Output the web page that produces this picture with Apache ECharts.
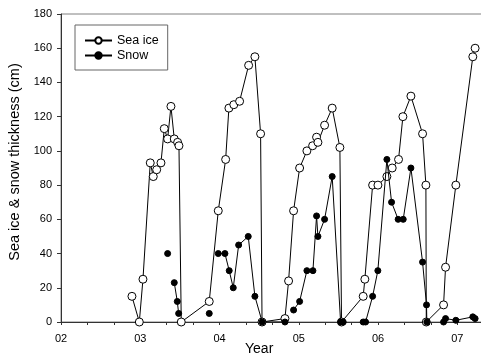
<!DOCTYPE html>
<html>
<head>
<meta charset="utf-8">
<script src="https://cdn.jsdelivr.net/npm/echarts@6/dist/echarts.min.js"></script>
<style>
  html, body { margin: 0; padding: 0; background: #fff; }
  #chart { width: 481px; height: 356px; }
</style>
</head>
<body>
<div id="chart"></div>
<script>
// 海冰厚度（空心圆）
const iceYear = [2002.895, 2002.988, 2003.034, 2003.126, 2003.164, 2003.207, 2003.261, 2003.303, 2003.345, 2003.387,
    2003.429, 2003.471, 2003.488, 2003.517, 2003.870, 2003.984, 2004.077, 2004.118, 2004.180, 2004.253,
    2004.367, 2004.446, 2004.518, 2004.536, 2004.825, 2004.871, 2004.934, 2005.010, 2005.102, 2005.174,
    2005.224, 2005.241, 2005.325, 2005.421, 2005.518, 2005.539, 2005.812, 2005.833, 2005.931, 2005.998,
    2006.111, 2006.178, 2006.258, 2006.313, 2006.414, 2006.561, 2006.603, 2006.608, 2006.826, 2006.851,
    2006.981, 2007.195, 2007.224];
const iceCm = [15, 0, 25, 93, 85, 89, 93, 113, 107, 126,
    107, 105, 103, 0, 12, 65, 95, 125, 127, 129,
    150, 155, 110, 0, 2, 24, 65, 90, 100, 103,
    108, 105, 115, 125, 102, 0, 15, 25, 80, 80,
    85, 90, 95, 120, 132, 110, 80, 0, 10, 32,
    80, 155, 160];

// 积雪厚度（实心圆），null 表示断开
const snowYear = [2003.345, null, 2003.429, 2003.467, 2003.484, null, 2003.870, null,
    2003.984, 2004.068, 2004.122, 2004.173, 2004.241, 2004.362, 2004.446, 2004.538, 2004.825, null,
    2004.934, 2005.010, 2005.102, 2005.178, 2005.224, 2005.241, 2005.325, 2005.421, 2005.527, 2005.560, null,
    2005.812, 2005.842, 2005.931, 2005.997, 2006.111, 2006.170, 2006.253, 2006.317, 2006.414, 2006.561, 2006.611, 2006.615, null,
    2006.826, 2006.851, 2006.981, 2007.195, 2007.224];
const snowCm = [40, null, 23, 12, 5, null, 5, null,
    40, 40, 30, 20, 45, 50, 15, 0, 0, null,
    7, 12, 30, 30, 62, 50, 60, 85, 0, 0, null,
    0, 0, 15, 30, 95, 70, 60, 60, 90, 35, 10, 0, null,
    0, 2, 1, 3, 2];

const yTicks = [0, 20, 40, 60, 80, 100, 120, 140, 160, 180];

const FONT = 'Liberation Sans, Arial, sans-serif';

function pairs(xs, ys) {
    return xs.map((x, i) => (x === null || ys[i] === null) ? ['-', '-'] : [x, ys[i]]);
}

const chart = echarts.init(document.getElementById('chart'));

const option = {
    animation: false,
    backgroundColor: '#fff',
    grid: {
        left: 61,
        top: 14,
        width: 436,   // 右侧超出画布，和原图一样被裁掉
        bottom: 34,
        outerBoundsMode: 'none',
        show: true,
        borderColor: '#808080',
        borderWidth: 1
    },
    legend: {
        data: ['Sea ice', 'Snow'],
        orient: 'vertical',
        left: 75,
        top: 25,
        padding: [9, 9, 8, 9],
        itemGap: 2,
        itemWidth: 27,
        itemHeight: 8,
        borderColor: '#666',
        borderWidth: 1,
        textStyle: { fontFamily: FONT, fontSize: 12.5, color: '#000' }
    },
    xAxis: {
        type: 'value',
        min: 2002,
        max: 2007.5,
        interval: 1,
        splitLine: { show: false },
        axisLine: { lineStyle: { color: '#333', width: 1 } },
        axisTick: { show: true, inside: false, length: 3, lineStyle: { color: '#333' } },
        minorTick: { show: true, splitNumber: 3, length: 3, lineStyle: { color: '#333' } },
        axisLabel: {
            margin: 11,
            fontFamily: FONT,
            fontSize: 11,
            color: '#000',
            formatter: v => (v >= 2007.5 ? '' : String(Math.round(v) - 2000).padStart(2, '0'))
        }
    },
    yAxis: {
        type: 'value',
        min: yTicks[0],
        max: yTicks[yTicks.length - 1],
        interval: 20,
        splitLine: { show: false },
        axisLine: { show: true, lineStyle: { color: '#333', width: 1 } },
        axisTick: { show: true, inside: false, length: 4, lineStyle: { color: '#333' } },
        axisLabel: { margin: 9, fontFamily: FONT, fontSize: 11, color: '#000' },
        name: 'Sea ice & snow thickness (cm)',
        nameLocation: 'middle',
        nameGap: 36,
        nameTextStyle: { fontFamily: FONT, fontSize: 14.5, color: '#000', padding: [0, 0, 0, 12] }
    },
    graphic: [{
        type: 'text',
        left: 245,
        top: 342,
        style: { text: 'Year', font: '14px ' + FONT, fill: '#000' }
    }],
    series: [
        {
            name: 'Sea ice',
            type: 'line',
            data: pairs(iceYear, iceCm),
            symbol: 'circle',
            symbolSize: 8,
            showAllSymbol: true,
            lineStyle: { color: '#000', width: 1 },
            itemStyle: { color: '#fff', borderColor: '#000', borderWidth: 1 },
            z: 2
        },
        {
            name: 'Snow',
            type: 'line',
            data: pairs(snowYear, snowCm),
            connectNulls: false,
            symbol: 'circle',
            symbolSize: 6,
            showAllSymbol: true,
            lineStyle: { color: '#000', width: 1 },
            itemStyle: { color: '#000', borderColor: '#000', borderWidth: 1 },
            z: 3
        }
    ]
};

chart.setOption(option);
</script>
</body>
</html>
